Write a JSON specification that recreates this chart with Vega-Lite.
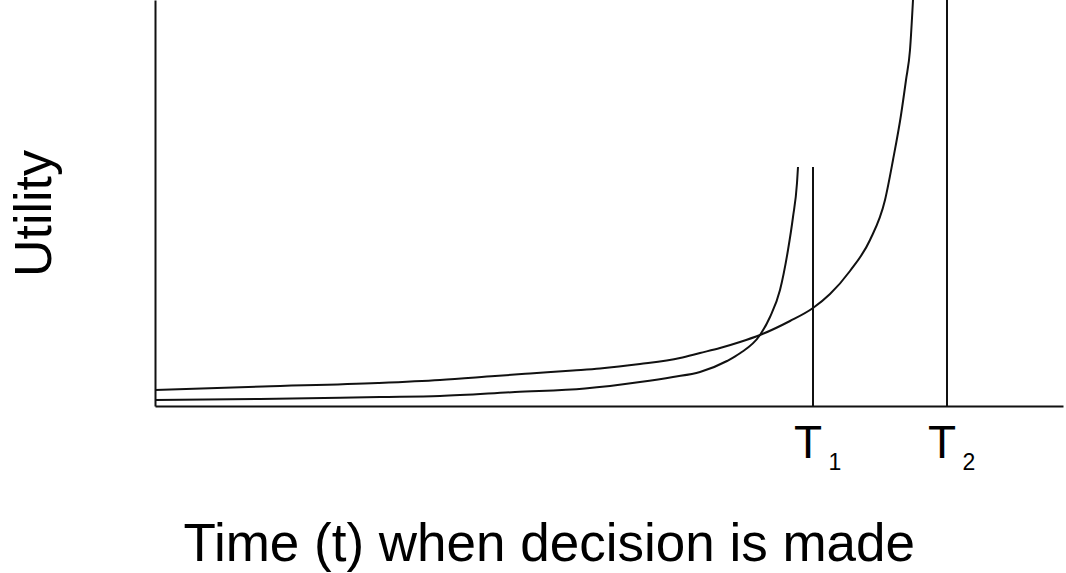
{
  "$schema": "https://vega.github.io/schema/vega-lite/v6.json",
  "width": 908,
  "height": 406,
  "autosize": {"type": "none"},
  "padding": {"left": 155, "top": 0, "right": 3, "bottom": 167},
  "background": "white",
  "config": {
    "view": {"stroke": null},
    "font": "Liberation Sans"
  },
  "datasets": {
    "curves": [
      {"series": "A", "t": 0, "u": 6},
      {"series": "A", "t": 105, "u": 7},
      {"series": "A", "t": 225, "u": 9},
      {"series": "A", "t": 285, "u": 10},
      {"series": "A", "t": 360, "u": 14},
      {"series": "A", "t": 430, "u": 17.5},
      {"series": "A", "t": 485, "u": 24},
      {"series": "A", "t": 518, "u": 29},
      {"series": "A", "t": 545, "u": 34},
      {"series": "A", "t": 572, "u": 45},
      {"series": "A", "t": 585, "u": 52.7},
      {"series": "A", "t": 605, "u": 71},
      {"series": "A", "t": 615, "u": 89},
      {"series": "A", "t": 625, "u": 116},
      {"series": "A", "t": 633, "u": 156},
      {"series": "A", "t": 638, "u": 189},
      {"series": "A", "t": 642, "u": 223},
      {"series": "A", "t": 643, "u": 239},
      {"series": "B", "t": 0, "u": 16},
      {"series": "B", "t": 108, "u": 19.5},
      {"series": "B", "t": 223, "u": 23},
      {"series": "B", "t": 285, "u": 26},
      {"series": "B", "t": 340, "u": 30},
      {"series": "B", "t": 375, "u": 32.5},
      {"series": "B", "t": 418, "u": 35.5},
      {"series": "B", "t": 445, "u": 37.5},
      {"series": "B", "t": 485, "u": 42},
      {"series": "B", "t": 525, "u": 48},
      {"series": "B", "t": 545, "u": 53},
      {"series": "B", "t": 565, "u": 58},
      {"series": "B", "t": 585, "u": 64},
      {"series": "B", "t": 605, "u": 71},
      {"series": "B", "t": 635, "u": 85},
      {"series": "B", "t": 658, "u": 98},
      {"series": "B", "t": 675, "u": 112},
      {"series": "B", "t": 695, "u": 135},
      {"series": "B", "t": 715, "u": 166},
      {"series": "B", "t": 730, "u": 206},
      {"series": "B", "t": 738, "u": 246},
      {"series": "B", "t": 746, "u": 291},
      {"series": "B", "t": 751, "u": 326},
      {"series": "B", "t": 755, "u": 356},
      {"series": "B", "t": 758, "u": 406}
    ],
    "deadlines": [
      {"label": "T", "sub": "1", "t": 658, "top": 239},
      {"label": "T", "sub": "2", "t": 792, "top": 406}
    ]
  },
  "layer": [
    {
      "data": {"name": "curves"},
      "mark": {"type": "line", "interpolate": "monotone", "color": "#111", "strokeWidth": 2},
      "encoding": {
        "x": {
          "field": "t", "type": "quantitative",
          "scale": {"domain": [0, 908], "nice": false, "zero": false},
          "axis": {
            "domain": true, "domainColor": "#111", "domainWidth": 2,
            "ticks": false, "labels": false, "grid": false,
            "title": "Time (t) when decision is made",
            "titleFont": "Liberation Sans", "titleFontSize": 53, "titleFontWeight": "normal",
            "titleColor": "black", "titleX": 28, "titleY": 154,
            "titleAlign": "left", "titleBaseline": "alphabetic"
          }
        },
        "y": {
          "field": "u", "type": "quantitative",
          "scale": {"domain": [0, 406], "nice": false, "zero": false},
          "axis": {
            "domain": true, "domainColor": "#111", "domainWidth": 2,
            "ticks": false, "labels": false, "grid": false,
            "title": "Utility",
            "titleFont": "Liberation Sans", "titleFontSize": 52, "titleFontWeight": "normal",
            "titleColor": "black", "titleX": -105, "titleY": 213, "titleAngle": 270,
            "titleAlign": "center", "titleBaseline": "alphabetic"
          }
        },
        "detail": {"field": "series"}
      }
    },
    {
      "data": {"name": "deadlines"},
      "mark": {"type": "rule", "color": "#111", "strokeWidth": 2},
      "encoding": {
        "x": {"field": "t", "type": "quantitative"},
        "y": {"field": "top", "type": "quantitative"},
        "y2": {"datum": 0}
      }
    },
    {
      "data": {"name": "deadlines"},
      "mark": {"type": "text", "font": "Liberation Sans", "fontSize": 46, "align": "center", "baseline": "alphabetic", "dx": -5, "dy": 52, "color": "black"},
      "encoding": {
        "x": {"field": "t", "type": "quantitative"},
        "y": {"datum": 0, "type": "quantitative"},
        "text": {"field": "label"}
      }
    },
    {
      "data": {"name": "deadlines"},
      "mark": {"type": "text", "font": "Liberation Sans", "fontSize": 23, "align": "center", "baseline": "alphabetic", "dx": 22, "dy": 64, "color": "black"},
      "encoding": {
        "x": {"field": "t", "type": "quantitative"},
        "y": {"datum": 0, "type": "quantitative"},
        "text": {"field": "sub"}
      }
    }
  ]
}
